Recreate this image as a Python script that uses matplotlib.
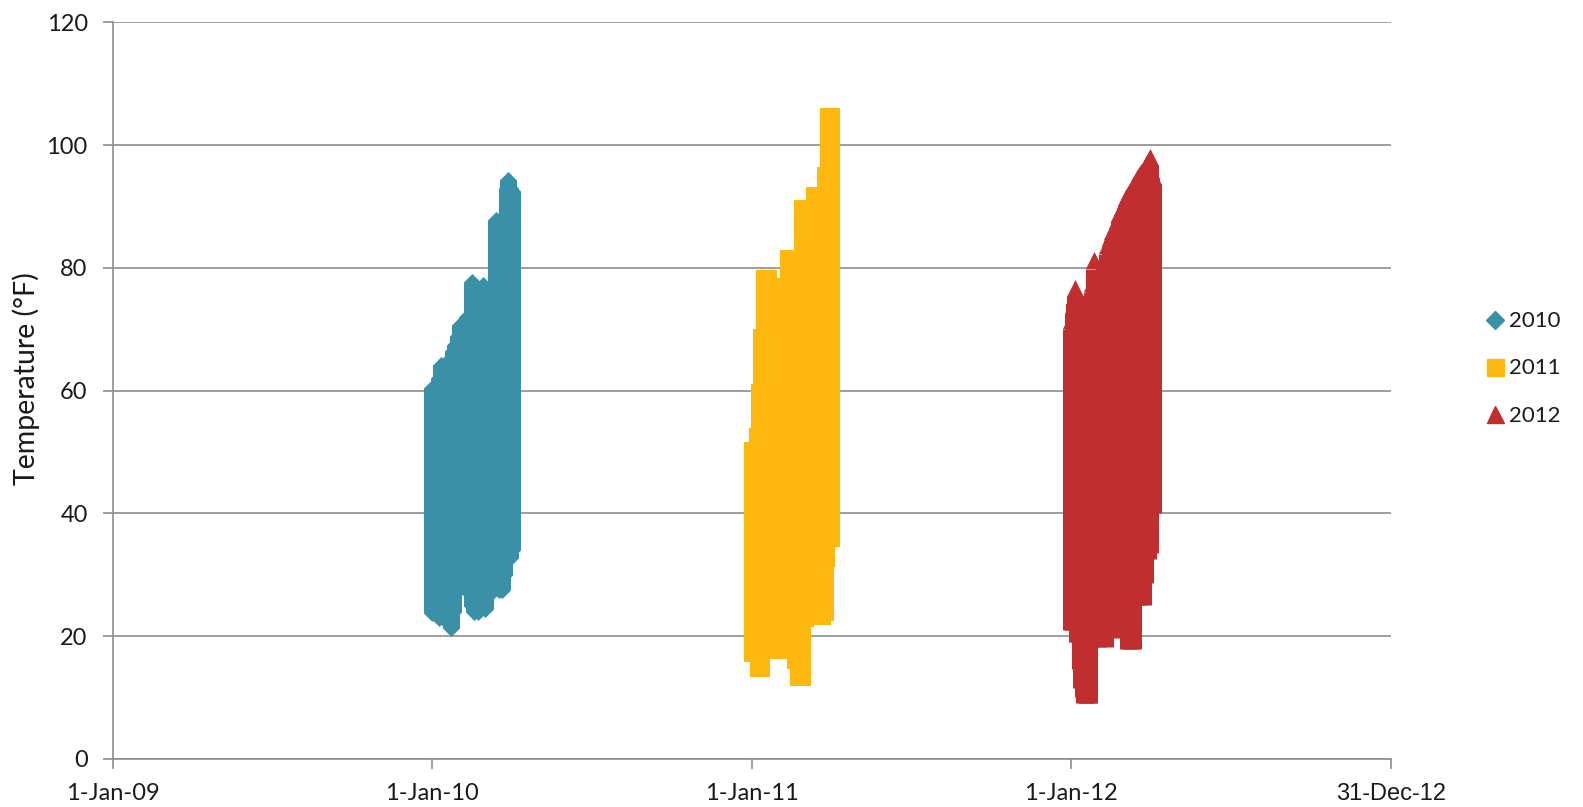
import matplotlib
matplotlib.use("Agg")
import matplotlib.pyplot as plt
import matplotlib.dates as mdates
from matplotlib.lines import Line2D
import pandas as pd

# Leituras de temperatura (°F): mínimo e máximo por dia, dias contados desde 1 de janeiro
dias_2010 = [0, 2, 4, 6, 8, 10, 12, 14, 16, 18, 20, 22, 24, 26, 28, 30, 32, 34, 36, 38, 40, 42,
             45, 48, 50, 52, 54, 56, 58, 60, 62, 64, 66, 68, 70, 73, 76, 78, 80, 82, 85, 87, 89, 91]
max_2010 = [60.4, 59, 61, 60, 62, 64.2, 63.5, 64, 63, 64.5, 65.2, 64, 66.5, 67.5, 66, 69, 70.7, 69, 70, 71, 72, 71,
            77.8, 73, 74, 72, 75, 74, 77.2, 75, 76, 74, 76, 75, 77, 87.8, 86, 87.8, 87, 88, 93.0, 94.3, 93, 92.5]
min_2010 = [23.8, 24, 23.8, 25, 23, 24, 23, 25, 23, 24, 22.5, 21.3, 24, 27, 28, 29, 30, 29, 29, 30, 28, 27,
            25, 24, 25, 24, 26, 24.5, 25, 24.5, 27, 28, 27.3, 29, 27.3, 28, 27.5, 29, 27.5, 30, 32.7, 33, 32.7, 34]

dias_2011 = [0, 2, 4, 5.8, 7, 8.9, 10.8, 13.5, 16, 18.8, 21, 24, 27, 30, 33, 36, 39,
             41.3, 44, 47, 49.5, 53, 55.5, 57.7, 61, 64, 67, 69.5, 71.7, 74, 77, 80, 83.2, 85, 87, 89, 91]
max_2011 = [50.3, 50.3, 50.3, 52.7, 52.7, 59.8, 68.8, 78.3, 78.3, 78.3, 75, 77, 74, 76, 77, 75, 77,
            81.7, 80, 81, 78, 81.7, 80, 89.8, 88, 86, 89, 88, 91.9, 90, 91, 91.9, 95.1, 95.1, 104.8, 104.8, 104.8]
min_2011 = [17.3, 18, 17.3, 19, 14.8, 15, 14.8, 19, 20, 17.8, 19, 18, 20, 17.8, 19, 18.5, 20,
            18, 19, 21, 16.2, 13.3, 13.5, 13.3, 23, 24, 23.3, 25, 23.3, 24, 23.5, 23.3, 24, 32.7, 36, 37, 36]

dias_2012 = [0, 2, 3.5, 4.9, 6.3, 8.5, 10, 11.5, 13, 15, 17, 19, 20, 22, 23.5, 25.8, 28, 31, 34, 37,
             39, 41.1, 44, 47, 50, 52.5, 55, 58, 61, 63, 65.1, 67, 70.6, 73, 75.4, 78, 80, 82, 84, 86,
             88, 89.5, 91, 93]
max_2012 = [71.5, 74, 75.5, 76.8, 73.5, 71, 69, 68, 67, 66, 67, 68, 69, 75, 77.5, 81.3, 78, 79, 80, 81.3,
            82, 83.7, 85, 86, 87, 87.8, 89, 90, 91, 91.5, 92.1, 92.5, 93.5, 94, 94.6, 95.2, 95.6, 96, 96.5, 97,
            97.5, 98.1, 96, 95]
min_2012 = [22.4, 22.4, 23, 23, 20.5, 20.5, 16, 13, 11.5, 10.5, 10.5, 10.5, 10.5, 19.7, 21, 22, 20, 19.7, 21, 20,
            19.7, 22, 23, 21.1, 23, 24, 22, 23, 22, 24, 19.3, 19.3, 19.3, 26.5, 27, 26.5, 28, 26.5, 30, 33.9,
            33.9, 35, 41.4, 41.4]

anos = ["2010", "2011", "2012"]
cores = ["#3A91A7", "#FDB70E", "#C12E30"]
marcadores = ["D", "s", "^"]

ticks_x = ["2009-01-01", "2010-01-01", "2011-01-01", "2012-01-01", "2012-12-31"]
rotulos_x = ["1-Jan-09", "1-Jan-10", "1-Jan-11", "1-Jan-12", "31-Dec-12"]
ticks_y = [0, 20, 40, 60, 80, 100, 120]

plt.rcParams["font.family"] = ["Lato", "DejaVu Sans"]
cinza = "#8e8e8e"
texto = "#1a1a1a"

LARGURA = 12.24          # largura do marcador em pontos (~17 px)
MEIA_ALTURA = 8.5 / 6.1375  # metade do marcador em °F


def datas_do_ano(ano, dias):
    inicio = pd.Timestamp(int(ano), 1, 1)
    return mdates.date2num((inicio + pd.to_timedelta(dias, unit="D")).values)


# Cada dia vira uma faixa vertical do mínimo ao máximo, com o marcador nas pontas
def desenhar_serie(ax, ano, dias, minimos, maximos, cor, marcador):
    x = datas_do_ano(ano, dias)
    lo = pd.Series(minimos, dtype=float)
    hi = pd.Series(maximos, dtype=float)
    if marcador == "^":
        ax.vlines(x, lo - MEIA_ALTURA, hi - MEIA_ALTURA, colors=cor, linewidth=LARGURA,
                  capstyle="butt", zorder=3)
        ax.scatter(x, hi, marker="^", s=LARGURA ** 2, color=cor, linewidths=0, zorder=3)
    else:
        s = (LARGURA / 1.4142) ** 2 if marcador == "D" else LARGURA ** 2
        ax.vlines(x, lo, hi, colors=cor, linewidth=LARGURA, capstyle="butt", zorder=3)
        ax.scatter(x, hi, marker=marcador, s=s, color=cor, linewidths=0, zorder=3)
        ax.scatter(x, lo, marker=marcador, s=s, color=cor, linewidths=0, zorder=3)


fig = plt.figure(figsize=(15.83, 8.07), dpi=100)
ax = fig.add_axes([0.07119, 0.05948, 0.80733, 0.91264])

desenhar_serie(ax, anos[0], dias_2010, min_2010, max_2010, cores[0], marcadores[0])
desenhar_serie(ax, anos[1], dias_2011, min_2011, max_2011, cores[1], marcadores[1])
desenhar_serie(ax, anos[2], dias_2012, min_2012, max_2012, cores[2], marcadores[2])

# Eixos
xt = mdates.date2num(pd.to_datetime(ticks_x).values)
ax.set_xlim(xt[0], xt[-1])
ax.set_ylim(0, 120)
ax.set_xticks(xt)
ax.set_xticklabels(rotulos_x)
ax.get_xticklabels()[-1].set_fontfamily("Liberation Sans")
ax.get_xticklabels()[-1].set_fontsize(16.5)
ax.set_yticks(ticks_y)

ax.grid(axis="y", color=cinza, linewidth=1.2)
ax.set_axisbelow(True)
for lado in ["top", "right"]:
    ax.spines[lado].set_visible(False)
for lado in ["left", "bottom"]:
    ax.spines[lado].set_color(cinza)
    ax.spines[lado].set_linewidth(1.2)

ax.tick_params(axis="both", colors=cinza, labelcolor=texto, width=1.2, length=7, labelsize=17)
ax.tick_params(axis="y", pad=11)
ax.tick_params(axis="x", pad=10)

ax.set_ylabel("Temperature (°F)", fontsize=20.5, color=texto)
ax.yaxis.set_label_coords(-0.0565, 0.516)

# Legenda à direita
itens = [
    Line2D([], [], linestyle="none", marker="D", markersize=LARGURA / 1.4142, color=cores[0]),
    Line2D([], [], linestyle="none", marker="s", markersize=LARGURA, color=cores[1]),
    Line2D([], [], linestyle="none", marker="^", markersize=LARGURA, color=cores[2]),
]
leg = fig.legend(itens, anos, loc="center left", bbox_to_anchor=(0.9305, 0.5435), frameon=False,
                 fontsize=16, handlelength=1.0, handletextpad=0.1, labelspacing=1.22, borderpad=0)
for t in leg.get_texts():
    t.set_color(texto)

fig.savefig("out.png", dpi=100)
